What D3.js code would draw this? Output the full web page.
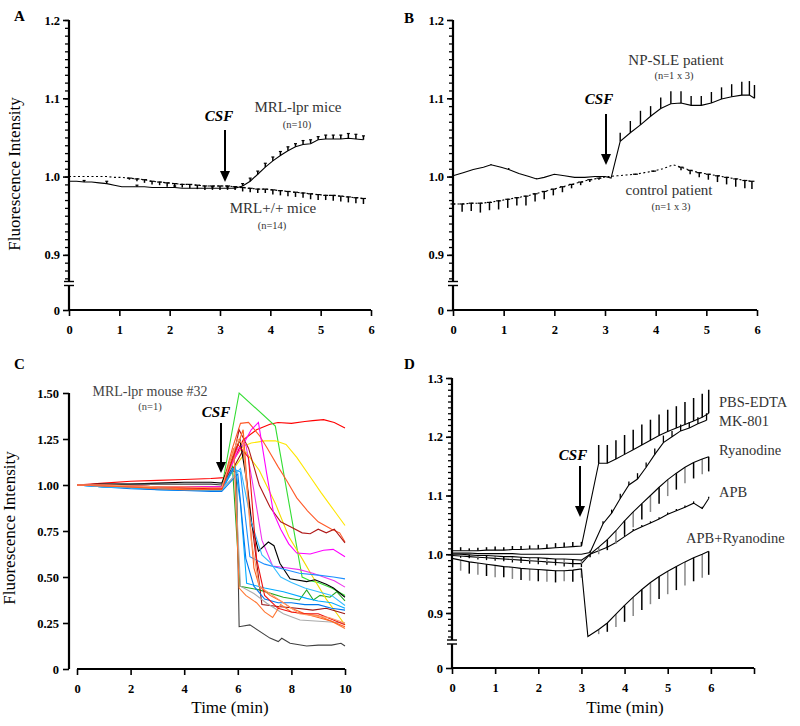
<!DOCTYPE html>
<html><head><meta charset="utf-8">
<script src="https://cdn.jsdelivr.net/npm/d3@7"></script>
<style>body{margin:0;background:#fff} svg text{font-family:"Liberation Serif","Times New Roman",serif}</style>
</head><body><script>
// ---------------- DATA ----------------
// Panel A
const tA = [0,0.15,0.3,0.45,0.6,0.75,0.9,1.05,1.2,1.35,1.5,1.65,1.8,1.95,2.1,2.25,2.4,2.55,2.7,2.85,3,3.15,3.3,3.45,3.6,3.75,3.9,4.05,4.2,4.35,4.5,4.65,4.8,4.95,5.1,5.25,5.4,5.55,5.7,5.85];
const lprA = [0.994,0.994,0.993,0.993,0.992,0.991,0.989,0.987,0.987,0.987,0.987,0.986,0.986,0.986,0.986,0.985,0.985,0.985,0.985,0.985,0.985,0.985,0.985,0.988,0.994,1.003,1.012,1.020,1.027,1.033,1.038,1.041,1.042,1.047,1.048,1.048,1.048,1.049,1.048,1.047];
const lprErrA = [0,0,0.002,0,0,0.003,0,0,0,0.002,0,0,0,0,0.002,0,0,0,0,0.002,0,0.002,0.002,0.003,0.004,0.004,0.005,0.005,0.005,0.005,0.004,0.005,0.005,0.004,0.005,0.005,0.005,0.006,0.006,0.005];
const wtA = [1.0,1.0,1.0,1.0,1.0,1.0,0.999,0.999,0.998,0.997,0.996,0.994,0.993,0.992,0.991,0.990,0.990,0.989,0.988,0.988,0.988,0.988,0.987,0.986,0.985,0.984,0.984,0.983,0.982,0.981,0.980,0.979,0.978,0.977,0.976,0.976,0.975,0.974,0.973,0.972];
const wtErrA = [0,0,0,0,0,0,0,0,-0.002,-0.003,-0.004,-0.004,-0.004,-0.005,-0.005,-0.004,-0.005,-0.005,-0.005,-0.005,-0.005,-0.005,-0.004,-0.005,-0.005,-0.005,-0.005,-0.006,-0.006,-0.006,-0.006,-0.006,-0.007,-0.007,-0.006,-0.007,-0.007,-0.007,-0.007,-0.007];

// Panel B
const tNP = [0,0.2,0.4,0.6,0.75,0.95,1.1,1.3,1.5,1.65,1.8,2.0,2.2,2.4,2.6,2.8,3.0,3.12,3.3,3.5,3.7,3.9,4.1,4.3,4.5,4.7,4.9,5.1,5.3,5.5,5.7,5.85,5.95];
const vNP = [1.001,1.005,1.009,1.012,1.015,1.012,1.009,1.004,1.0,0.997,0.999,1.003,1.001,0.999,0.999,1.0,1.0,0.998,1.045,1.056,1.066,1.077,1.087,1.093,1.094,1.091,1.091,1.094,1.099,1.102,1.104,1.104,1.1];
const eNP = [0,0,0,0,0.001,0,0.002,0,0,0.001,0,0,0,0,0,0,0,0,0.011,0.015,0.018,0.013,0.014,0.016,0.015,0.012,0.012,0.014,0.015,0.016,0.017,0.018,0.017];
const tCt = [0,0.18,0.36,0.54,0.72,0.9,1.08,1.26,1.44,1.62,1.8,1.98,2.16,2.34,2.52,2.7,2.88,3.06,3.24,3.42,3.6,3.78,3.96,4.14,4.35,4.5,4.68,4.86,5.04,5.22,5.4,5.58,5.76,5.9];
const vCt = [0.965,0.965,0.966,0.966,0.967,0.969,0.971,0.973,0.975,0.978,0.981,0.984,0.987,0.990,0.993,0.996,0.998,1.0,1.001,1.002,1.003,1.005,1.007,1.010,1.015,1.012,1.008,1.005,1.003,1.001,0.999,0.997,0.995,0.994];
const eCt = [-0.008,-0.010,-0.010,-0.012,-0.010,-0.011,-0.011,-0.010,-0.012,-0.010,-0.010,-0.008,-0.007,-0.005,-0.004,-0.003,-0.002,0,0,0,-0.001,0,-0.001,0,0,-0.004,-0.005,-0.006,-0.007,-0.008,-0.009,-0.010,-0.010,-0.010];

// Panel C (time, value) per cell trace
const cColors = ['#ff0000','#33dd33','#22aa22','#ffe600','#f2dc00','#ff5a28','#b01818','#991111','#ff00ff','#ee33ee','#000000','#404040','#1e90ff','#00aaff','#0077ee','#33bbff','#aaaaaa','#ff7733','#ff6020','#ee1111','#ff9966'];
const cSeries = [
 [[0,1],[1,1.01],[2,1.02],[3,1.025],[4,1.03],[5,1.035],[5.5,1.04],[5.9,1.15],[6.2,1.245],[6.7,1.3],[7.2,1.33],[7.5,1.34],[8,1.335],[8.5,1.345],[8.8,1.35],[9.2,1.355],[9.6,1.34],[10,1.31]],
 [[0,1],[1,1.0],[2,0.995],[3,0.99],[4,0.99],[5,0.985],[5.4,0.985],[6.05,1.5],[7.4,1.32],[8.4,0.5],[8.7,0.48],[9,0.47],[9.5,0.44],[10,0.4]],
 [[0,1],[1,0.995],[2,0.99],[3,0.985],[4,0.985],[5,0.98],[5.4,0.98],[5.8,1.1],[6.08,0.45],[6.8,0.43],[7.7,0.39],[8.3,0.375],[8.57,0.43],[8.82,0.375],[9.07,0.4],[9.44,0.39],[9.69,0.42],[10,0.37]],
 [[0,1],[1,1.0],[2,0.99],[3,0.985],[4,0.985],[5,0.98],[5.4,0.98],[5.9,1.15],[6.2,1.21],[6.5,1.228],[7.0,1.24],[7.4,1.24],[7.8,1.22],[8.2,1.15],[8.7,1.045],[9.1,0.96],[9.6,0.86],[10,0.78]],
 [[0,1],[1,0.995],[2,0.99],[3,0.985],[4,0.98],[5,0.978],[5.4,0.978],[5.9,1.1],[6.3,1.18],[6.8,1.08],[7.4,0.9],[7.9,0.72],[8.4,0.6],[8.8,0.5],[9.3,0.38],[9.7,0.3],[10,0.24]],
 [[0,1],[1,1.0],[2,0.995],[3,0.99],[4,0.99],[5,0.985],[5.4,0.985],[5.8,1.2],[6.1,1.335],[6.4,1.34],[6.8,1.27],[7.1,1.2],[7.5,1.1],[7.8,1.03],[8.2,0.93],[8.6,0.86],[9.0,0.8],[9.5,0.76],[9.8,0.74],[10,0.69]],
 [[0,1],[1,1.0],[2,0.995],[3,0.99],[4,0.99],[5,0.99],[5.4,0.99],[5.9,1.2],[6.05,1.3],[6.4,1.2],[6.8,1.0],[7.2,0.88],[7.6,0.8],[8,0.77],[8.4,0.74],[8.7,0.735],[9,0.76],[9.3,0.74],[9.6,0.76],[10,0.685]],
 [[0,1],[1,0.995],[2,0.99],[3,0.985],[4,0.98],[5,0.975],[5.4,0.975],[6.2,1.19],[6.6,0.7],[6.9,0.35],[7.5,0.34],[8.2,0.33],[8.8,0.32],[9.3,0.33],[10,0.3]],
 [[0,1],[1,1.0],[2,0.995],[3,0.99],[4,0.99],[5,0.99],[5.4,0.99],[5.9,1.15],[6.2,1.22],[6.5,1.3],[6.77,1.34],[7.08,1.06],[7.33,0.85],[7.6,0.76],[7.9,0.68],[8.2,0.63],[8.7,0.625],[9.2,0.645],[9.56,0.65],[10,0.61]],
 [[0,1],[1,1.0],[2,0.99],[3,0.99],[4,0.985],[5,0.985],[5.4,0.985],[6.0,1.2],[6.3,1.22],[6.6,0.97],[6.9,0.7],[7.3,0.56],[7.8,0.55],[8.3,0.54],[8.8,0.52],[9.2,0.5],[9.6,0.48],[10,0.445]],
 [[0,1],[1,1.005],[2,1.005],[3,1.01],[4,1.015],[5,1.015],[5.4,1.01],[5.8,1.15],[6.08,1.245],[6.3,1.05],[6.5,0.8],[6.77,0.64],[7.14,0.69],[7.35,0.67],[7.57,0.575],[7.95,0.49],[8.57,0.475],[8.88,0.485],[9.3,0.46],[9.57,0.44],[10,0.39]],
 [[0,1],[1,1.005],[2,1.005],[3,1.005],[4,1.005],[5,1.005],[5.4,1.0],[5.75,1.08],[5.95,1.07],[6.05,0.23],[6.45,0.24],[7.2,0.168],[7.51,0.149],[7.64,0.167],[7.95,0.14],[8.57,0.125],[9.0,0.13],[9.5,0.13],[9.85,0.14],[10,0.125]],
 [[0,1],[1,0.99],[2,0.985],[3,0.98],[4,0.975],[5,0.975],[5.4,0.975],[5.8,1.09],[6.1,1.07],[6.3,0.8],[6.45,0.61],[7.0,0.57],[7.5,0.55],[8.3,0.52],[9,0.51],[9.57,0.5],[10,0.49]],
 [[0,1],[1,0.99],[2,0.985],[3,0.975],[4,0.97],[5,0.97],[5.4,0.97],[5.9,1.1],[6.1,0.9],[6.33,0.466],[7.0,0.44],[7.7,0.42],[8.57,0.384],[9,0.37],[9.5,0.36],[10,0.33]],
 [[0,1],[1,0.99],[2,0.98],[3,0.975],[4,0.97],[5,0.965],[5.4,0.965],[6.0,1.06],[6.3,0.6],[6.6,0.45],[7.0,0.38],[7.5,0.36],[8.0,0.36],[8.5,0.35],[9,0.35],[9.5,0.33],[10,0.32]],
 [[0,1],[1,0.99],[2,0.985],[3,0.98],[4,0.975],[5,0.97],[5.4,0.97],[6.1,1.09],[6.5,0.8],[6.9,0.62],[7.2,0.58],[7.6,0.5],[8.0,0.47],[8.5,0.44],[9.0,0.42],[9.5,0.4],[10,0.345]],
 [[0,1],[1,1.0],[2,0.995],[3,0.99],[4,0.985],[5,0.98],[5.4,0.98],[5.9,1.05],[6.1,0.45],[6.6,0.41],[7.08,0.357],[7.7,0.3],[8.32,0.266],[9.31,0.257],[10,0.25]],
 [[0,1],[1,0.995],[2,0.99],[3,0.985],[4,0.98],[5,0.98],[5.4,0.98],[5.85,1.2],[6.05,0.44],[6.3,0.4],[6.7,0.36],[7.0,0.31],[7.3,0.28],[7.6,0.35],[8.0,0.31],[8.5,0.3],[9,0.29],[9.5,0.26],[10,0.22]],
 [[0,1],[1,0.995],[2,0.99],[3,0.98],[4,0.975],[5,0.975],[5.4,0.975],[6.2,1.3],[6.4,0.9],[6.6,0.55],[6.8,0.45],[7.2,0.4],[7.6,0.37],[8.0,0.33],[8.5,0.3],[9.0,0.28],[9.5,0.26],[10,0.23]],
 [[0,1],[1,1.0],[2,0.995],[3,0.99],[4,0.985],[5,0.98],[5.4,0.98],[6.0,1.22],[6.4,1.15],[6.7,0.6],[7.0,0.4],[7.5,0.33],[8.0,0.31],[8.5,0.3],[9,0.3],[9.5,0.27],[10,0.24]],
 [[0,1],[1,1.0],[2,0.995],[3,0.99],[4,0.99],[5,0.985],[5.4,0.985],[6.0,1.25],[6.2,1.22],[6.5,0.7],[6.8,0.45],[7.3,0.4],[7.8,0.35],[8.3,0.3],[8.8,0.29],[9.4,0.28],[10,0.25]]
];

// Panel D
const tPBS = [0,0.2,0.4,0.6,0.8,1,1.2,1.4,1.6,1.8,2,2.2,2.4,2.6,2.8,3,3.4,3.6,3.8,4,4.2,4.4,4.6,4.8,5,5.2,5.4,5.6,5.8,5.95];
const vPBS = [1.006,1.006,1.006,1.006,1.007,1.007,1.007,1.008,1.008,1.009,1.009,1.010,1.011,1.012,1.013,1.014,1.155,1.155,1.162,1.170,1.178,1.186,1.194,1.202,1.209,1.215,1.221,1.227,1.233,1.240];
const ePBS = [0,0.006,0.004,0.005,0.005,0.006,0.005,0.006,0.006,0.006,0.007,0.007,0.008,0.008,0.008,0.007,0.031,0.031,0.032,0.033,0.034,0.035,0.035,0.036,0.037,0.037,0.038,0.039,0.040,0.040];
const tMK = [0,0.2,0.4,0.6,0.8,1,1.2,1.4,1.6,1.8,2,2.2,2.4,2.6,2.8,3,3.2,3.5,3.7,3.9,4.1,4.3,4.5,4.7,4.9,5.1,5.3,5.5,5.7,5.9];
const vMK = [1.002,1.002,1.002,1.001,1.001,1.001,1.001,1.001,1.0,1.0,1.0,1.0,1.0,1.0,1.0,1.0,1.003,1.052,1.070,1.095,1.118,1.128,1.148,1.170,1.190,1.200,1.210,1.215,1.222,1.228];
const eMK = [0,0,0,0,0,0,0,0,0,0,0,0,0,0,0,0,0.003,0.004,0.006,0.008,0.006,0.010,0.008,0.010,0.012,0.010,0.011,0.010,0.011,0.012];
const tRy = [0,0.2,0.4,0.6,0.8,1,1.2,1.4,1.6,1.8,2,2.2,2.4,2.6,2.8,3,3.2,3.4,3.6,3.8,4,4.2,4.4,4.6,4.8,5,5.2,5.4,5.6,5.8,5.95];
const vRy = [1.0,1.0,0.999,0.998,0.998,0.997,0.996,0.996,0.995,0.994,0.994,0.993,0.992,0.992,0.991,0.990,1.0,1.012,1.025,1.040,1.057,1.072,1.086,1.100,1.114,1.127,1.138,1.148,1.156,1.162,1.166];
const eRy = [0,-0.003,-0.003,-0.004,-0.004,-0.004,-0.005,-0.005,-0.005,-0.005,-0.005,-0.006,-0.006,-0.006,-0.006,-0.006,-0.005,-0.012,-0.018,-0.022,-0.024,-0.026,-0.027,-0.028,-0.028,-0.028,-0.028,-0.027,-0.027,-0.026,-0.025];
const tAPB = [0,0.2,0.4,0.6,0.8,1,1.2,1.4,1.6,1.8,2,2.2,2.4,2.6,2.8,3,3.2,3.4,3.6,3.8,4,4.2,4.4,4.6,4.8,5,5.2,5.4,5.6,5.8,5.95];
const vAPB = [0.998,0.997,0.996,0.995,0.994,0.993,0.992,0.991,0.990,0.989,0.988,0.987,0.986,0.985,0.984,0.984,1.0,1.006,1.012,1.020,1.030,1.040,1.047,1.053,1.060,1.068,1.074,1.080,1.087,1.078,1.095];
const eAPB = [0,-0.003,-0.003,-0.004,-0.004,-0.004,-0.004,-0.005,-0.005,-0.005,-0.005,-0.005,-0.005,-0.006,-0.006,-0.006,0,0.002,0.003,0.003,0.003,0.003,0.003,0.003,0.003,0.003,0.003,0.003,0.003,0.003,0.003];
const tAR = [0,0.2,0.4,0.6,0.8,1,1.2,1.4,1.6,1.8,2,2.2,2.4,2.6,2.8,3,3.15,3.4,3.6,3.8,4,4.2,4.4,4.6,4.8,5,5.2,5.4,5.6,5.8,5.95];
const vAR = [0.993,0.990,0.987,0.985,0.983,0.981,0.979,0.978,0.976,0.975,0.974,0.973,0.972,0.972,0.973,0.975,0.860,0.872,0.883,0.898,0.913,0.927,0.940,0.952,0.962,0.971,0.979,0.987,0.994,1.000,1.005];
const eAR = [0,-0.018,-0.020,-0.020,-0.020,-0.020,-0.018,-0.020,-0.020,-0.020,-0.020,-0.020,-0.020,-0.018,-0.020,-0.015,0,-0.008,-0.015,-0.022,-0.028,-0.032,-0.035,-0.037,-0.038,-0.039,-0.040,-0.040,-0.040,-0.040,-0.040];

const yTicksTop = [0,0.9,1.0,1.1,1.2];
const yTicksD = [0,0.9,1.0,1.1,1.2,1.3];
const yTicksC = [0,0.25,0.5,0.75,1.0,1.25,1.5];
const xTicks6 = [0,1,2,3,4,5,6];
const xTicksD = [0,1,2,3,4,5,6,7];
const xTicksC = [0,2,4,6,8,10];

// ---------------- DRAWING ----------------
const svg = d3.select('body').append('svg').attr('width',800).attr('height',726);
const AX = 2.2;

function txt(x,y,s,o={}) {
  return svg.append('text').attr('x',x).attr('y',y).text(s)
    .attr('font-size',o.size||14).attr('font-weight',o.bold?'bold':'normal')
    .attr('font-style',o.italic?'italic':'normal').attr('fill',o.fill||'#000')
    .attr('text-anchor',o.anchor||'middle');
}
function fmt1(d){ return d===0 ? '0' : d3.format('.1f')(d); }
function fmt2(d){ return d===0 ? '0' : d3.format('.2f')(d); }

function styleAxis(g){
  g.select('.domain').remove();
  g.selectAll('.tick line').attr('stroke','#000').attr('stroke-width',1.6);
  g.selectAll('.tick text').attr('font-size',12.5).attr('font-weight','bold')
    .attr('font-family','"Liberation Serif",serif').attr('fill','#000');
}

function brokenY(x0, y, ticks, minorVals, yTop, yBreak, yZero) {
  const g = svg.append('g').attr('transform',`translate(${x0},0)`);
  g.call(d3.axisLeft(y).tickValues(minorVals).tickSize(4).tickFormat(''));
  g.select('.domain').remove();
  g.selectAll('.tick line').attr('stroke','#000').attr('stroke-width',1.3);
  const gm = svg.append('g').attr('transform',`translate(${x0},0)`);
  gm.call(d3.axisLeft(y).tickValues(ticks).tickSize(6).tickPadding(3).tickFormat(fmt1));
  styleAxis(gm);
  svg.append('line').attr('x1',x0).attr('x2',x0).attr('y1',yTop).attr('y2',yBreak-2).attr('stroke','#000').attr('stroke-width',AX);
  svg.append('line').attr('x1',x0).attr('x2',x0).attr('y1',yBreak+2).attr('y2',yZero+1).attr('stroke','#000').attr('stroke-width',AX);
  [yBreak-2, yBreak+2].forEach(yy => svg.append('line').attr('x1',x0-5).attr('x2',x0+5).attr('y1',yy).attr('y2',yy).attr('stroke','#000').attr('stroke-width',1.4));
}
function bottomX(y0, x, ticks, labels, xStart, xEnd) {
  const g = svg.append('g').attr('transform',`translate(0,${y0})`);
  g.call(d3.axisBottom(x).tickValues(ticks).tickSize(6).tickPadding(9).tickFormat(d => labels.includes(d) ? String(d) : ''));
  styleAxis(g);
  svg.append('line').attr('x1',xStart).attr('x2',xEnd).attr('y1',y0).attr('y2',y0).attr('stroke','#000').attr('stroke-width',AX);
}
function series(x, y, t, v, o={}) {
  const pts = t.map((d,i)=>[d,v[i]]);
  svg.append('path').datum(pts).attr('d', d3.line().x(d=>x(d[0])).y(d=>y(d[1])))
    .attr('fill','none').attr('stroke',o.color||'#000').attr('stroke-width',o.w||1.1)
    .attr('stroke-dasharray',o.dash||null);
}
function errBars(x, y, t, v, e, o={}) {
  t.forEach((ti,i)=>{
    const ei = e[i]; if (!ei) return;
    const px = x(ti), y0 = y(v[i]), y1 = y(v[i]+ei);
    const col = o.colors ? o.colors[i % o.colors.length] : '#000';
    svg.append('line').attr('x1',px).attr('x2',px).attr('y1',y0).attr('y2',y1).attr('stroke',col).attr('stroke-width',o.w||1.4);
    if (o.cap) {
      const cy = o.cap==='base' ? y0 : y1;
      svg.append('line').attr('x1',px-(o.capW||2)).attr('x2',px+(o.capW||2)).attr('y1',cy).attr('y2',cy).attr('stroke',col).attr('stroke-width',1.2);
    }
  });
}
function arrow(x, y1, y2) {
  svg.append('line').attr('x1',x).attr('x2',x).attr('y1',y1).attr('y2',y2-10).attr('stroke','#000').attr('stroke-width',2);
  svg.append('path').attr('d',`M${x-5},${y2-11}L${x+5},${y2-11}L${x},${y2}Z`).attr('fill','#000');
}
function yTitle(x, y, s) {
  svg.append('text').attr('transform',`translate(${x},${y}) rotate(-90)`).text(s)
    .attr('font-size',17).attr('text-anchor','middle').attr('fill','#000');
}

// ---- Panel A ----
const xA = d3.scaleLinear().domain([0,6]).range([69,371]);
const yA = d3.scaleLinear().domain([0,0.85,1.2]).range([310,294,20]);
const minorTop = d3.range(87,121).map(d=>d/100);
brokenY(69, yA, yTicksTop, minorTop, 20, 283.5, 310);
bottomX(310, xA, xTicks6, xTicks6, 69, 371);
errBars(xA, yA, tA, wtA, wtErrA, {cap:'base', capW:2.5, w:1.5});
series(xA, yA, tA, wtA, {dash:'2,2.5'});
errBars(xA, yA, tA, lprA, lprErrA, {cap:'end', capW:1.5, w:1.5});
series(xA, yA, tA, lprA, {});
txt(14,21,'A',{bold:true,size:15,anchor:'start'});
yTitle(20,174,'Fluorescence Intensity');
txt(219,121,'CSF',{bold:true,italic:true,size:15});
arrow(225,130,182);
txt(298,112,'MRL-lpr mice',{size:15,fill:'#333'});
txt(297,128,'(n=10)',{size:10.5,fill:'#333'});
txt(273,213,'MRL+/+ mice',{size:15,fill:'#333'});
txt(272,229,'(n=14)',{size:10.5,fill:'#333'});

// ---- Panel B ----
const xB = d3.scaleLinear().domain([0,6]).range([453,757]);
const yB = yA;
brokenY(453, yB, yTicksTop, minorTop, 20, 283.5, 310);
bottomX(310, xB, xTicks6, xTicks6, 453, 757);
errBars(xB, yB, tCt, vCt, eCt, {cap:'base', capW:2.5, w:1.5});
series(xB, yB, tCt, vCt, {dash:'2,2.5'});
errBars(xB, yB, tNP, vNP, eNP, {w:1.4});
series(xB, yB, tNP, vNP, {});
txt(404,23,'B',{bold:true,size:15,anchor:'start'});
txt(676,65,'NP-SLE patient',{size:15,fill:'#333'});
txt(674,79,'(n=1 x 3)',{size:10.5,fill:'#333'});
txt(599,104,'CSF',{bold:true,italic:true,size:15});
arrow(606,114,165);
txt(669,195,'control patient',{size:15,fill:'#333'});
txt(671,210,'(n=1 x 3)',{size:10.5,fill:'#333'});

// ---- Panel C ----
const xC = d3.scaleLinear().domain([0,10]).range([77,345]);
const yC = d3.scaleLinear().domain([0,1.5]).range([669,393]);
{
  const g = svg.append('g').attr('transform','translate(69,0)');
  g.call(d3.axisLeft(yC).tickValues(yTicksC).tickSize(6).tickPadding(4).tickFormat(fmt2));
  styleAxis(g);
  svg.append('line').attr('x1',69).attr('x2',69).attr('y1',393).attr('y2',669).attr('stroke','#000').attr('stroke-width',AX);
}
bottomX(669, xC, xTicksC, xTicksC, 77, 345);
cSeries.forEach((s,i)=>{
  series(xC, yC, s.map(d=>d[0]), s.map(d=>d[1]), {color:cColors[i], w:1.1});
});
txt(14,369,'C',{bold:true,size:15,anchor:'start'});
yTitle(15,528,'Fluorescence Intensity');
txt(150,396,'MRL-lpr mouse #32',{size:14,fill:'#444'});
txt(150,410,'(n=1)',{size:10.5,fill:'#444'});
txt(216,417,'CSF',{bold:true,italic:true,size:15});
arrow(221,423,473);
txt(230,713,'Time (min)',{size:17});

// ---- Panel D ----
const xD = d3.scaleLinear().domain([0,7]).range([452,754]);
const yD = d3.scaleLinear().domain([0,0.84,1.3]).range([668,648.25,378]);
const minorD = d3.range(86,131).map(d=>d/100);
brokenY(452, yD, yTicksD, minorD, 378, 642, 668);
bottomX(668, xD, xTicksD, xTicks6, 452, 754);
const gb = ['#000','#888'];
errBars(xD, yD, tAR, vAR, eAR, {colors:gb, w:1.5});
series(xD, yD, tAR, vAR, {});
errBars(xD, yD, tAPB, vAPB, eAPB, {w:1.3});
series(xD, yD, tAPB, vAPB, {});
errBars(xD, yD, tRy, vRy, eRy, {colors:gb, w:1.5});
series(xD, yD, tRy, vRy, {});
errBars(xD, yD, tMK, vMK, eMK, {w:1.3});
series(xD, yD, tMK, vMK, {});
errBars(xD, yD, tPBS, vPBS, ePBS, {w:1.5});
series(xD, yD, tPBS, vPBS, {});
txt(404,369,'D',{bold:true,size:15,anchor:'start'});
txt(573,460,'CSF',{bold:true,italic:true,size:15});
arrow(580,466,517);
txt(719,407,'PBS-EDTA',{size:14.5,fill:'#333',anchor:'start'});
txt(719,426,'MK-801',{size:14.5,fill:'#333',anchor:'start'});
txt(719,455,'Ryanodine',{size:14.5,fill:'#333',anchor:'start'});
txt(719,497,'APB',{size:14.5,fill:'#333',anchor:'start'});
txt(686,543,'APB+Ryanodine',{size:14.5,fill:'#333',anchor:'start'});
txt(625,713,'Time (min)',{size:17});
</script></body></html>
